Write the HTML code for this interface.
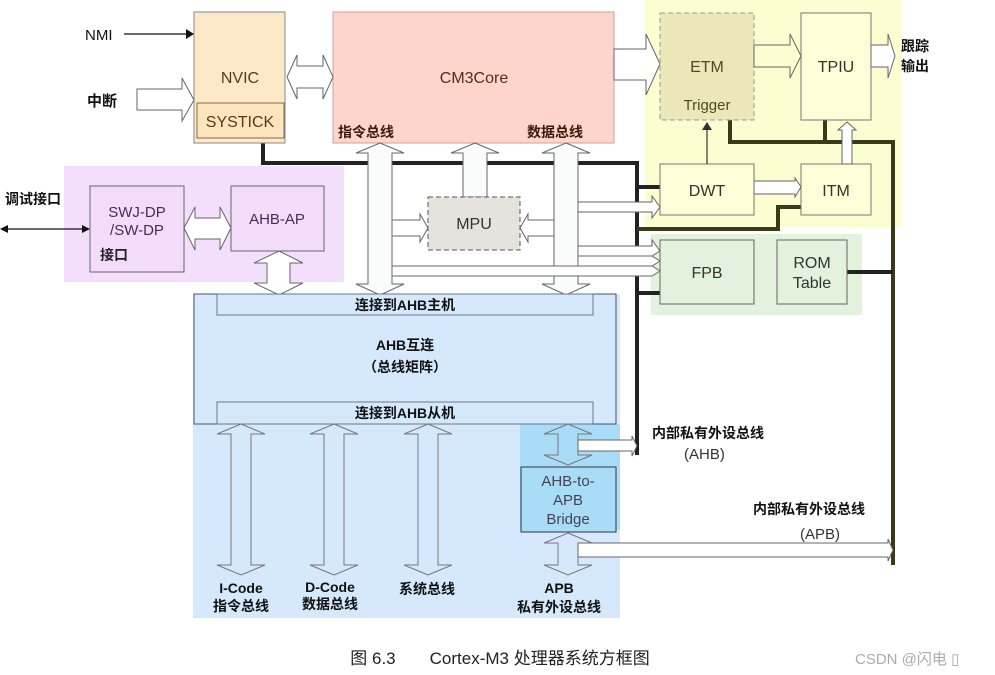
<!DOCTYPE html>
<html><head><meta charset="utf-8"><style>
html,body{margin:0;padding:0;background:#fff;}
svg{display:block;}
text{font-family:"Liberation Sans","Noto Sans CJK SC",sans-serif;}
.b{font-weight:bold;}
</style></head><body>
<svg width="995" height="675" viewBox="0 0 995 675" xmlns="http://www.w3.org/2000/svg">
<!-- background regions -->
<rect x="645" y="0" width="257" height="227" fill="#fdfdd2"/>
<rect x="651" y="234" width="211" height="81" fill="#e3f2dc"/>
<rect x="64" y="166" width="280" height="116" fill="#f3dffb"/>
<rect x="193" y="294" width="427" height="324" fill="#d6e9fc"/>
<rect x="520" y="424" width="100" height="106" fill="#a9dcf7"/>

<!-- black bus lines -->
<g fill="none" stroke="#222" stroke-width="4">
<polyline points="263,143 263,163 637,163 637,455"/>
<line x1="637" y1="187" x2="660" y2="187"/>
<line x1="637" y1="293" x2="660" y2="293"/>
<polyline points="637,229 778,229 778,207 801,207" stroke="#3a3a1a"/>
<polyline points="730,120 730,142 893,142 893,565" stroke="#3a3a1a"/>
<line x1="825" y1="120" x2="825" y2="142" stroke="#3a3a1a"/>
<line x1="847" y1="272" x2="893" y2="272"/>
</g>

<!-- NVIC -->
<rect x="194" y="12" width="91" height="131" fill="#fde9c9" stroke="#888"/>
<rect x="197" y="103" width="87" height="35" fill="#fce4bf" stroke="#8a6a3a"/>
<text x="240" y="83" font-size="16" text-anchor="middle" fill="#5a3a1a">NVIC</text>
<text x="240" y="127" font-size="16" text-anchor="middle" fill="#5a3a1a">SYSTICK</text>
<!-- CM3Core -->
<rect x="333" y="12" width="281" height="131" fill="#fdd5cb" stroke="#c9a29a"/>
<text x="474" y="83" font-size="16" text-anchor="middle" fill="#5a2a1a">CM3Core</text>
<text x="338" y="137" font-size="14" class="b" fill="#3a1a0a">指令总线</text>
<text x="527" y="137" font-size="14" class="b" fill="#3a1a0a">数据总线</text>

<!-- NMI & interrupt -->
<text x="85" y="40" font-size="15" fill="#111">NMI</text>
<line x1="124" y1="34" x2="188" y2="34" stroke="#111" stroke-width="1.3"/>
<polygon points="194,34 186,29 186,39" fill="#111"/>
<text x="87" y="106" font-size="15" class="b" fill="#111">中断</text>
<polygon points="137,89 182,89 182,78 194,100 182,121 182,110 137,110" fill="#fff" stroke="#666"/>
<!-- NVIC<->Core -->
<polygon points="287,77 297,55 297,66 323,66 323,55 333,77 323,99 323,88 297,88 297,99" fill="#fff" stroke="#666"/>

<!-- debug -->
<text x="5" y="204" font-size="14" class="b" fill="#111">调试接口</text>
<line x1="6" y1="229" x2="84" y2="229" stroke="#111" stroke-width="1.2"/>
<polygon points="0,229 8,225 8,233" fill="#111"/>
<polygon points="90,229 82,225 82,233" fill="#111"/>
<rect x="90" y="186" width="94" height="86" fill="#f2dcfa" stroke="#666"/>
<text x="137" y="217" font-size="15" text-anchor="middle" fill="#4a2a5a">SWJ-DP</text>
<text x="137" y="235" font-size="15" text-anchor="middle" fill="#4a2a5a">/SW-DP</text>
<text x="100" y="260" font-size="14" class="b" fill="#222">接口</text>
<rect x="231" y="186" width="93" height="65" fill="#f2dcfa" stroke="#666"/>
<text x="277" y="224" font-size="15" text-anchor="middle" fill="#4a2a5a">AHB-AP</text>
<polygon points="184,228 195,207 195,218 220,218 220,207 231,228 220,250 220,239 195,239 195,250" fill="#fff" stroke="#666"/>
<polygon points="279,251 303,263 290,263 290,283 303,283 279,295 254,283 267,283 267,263 254,263" fill="#fff" stroke="#666"/>

<!-- instruction/data bus vertical double arrows -->
<polygon points="380,143 404,153 392,153 392,284 404,284 380,295 356,284 368,284 368,153 356,153" fill="#fafcfc" stroke="#666"/>
<polygon points="566,143 590,153 578,153 578,284 590,284 566,295 542,284 554,284 554,153 542,153" fill="#fafcfc" stroke="#666"/>
<polygon points="475,143 499,153 487,153 487,197 463,197 463,153 451,153" fill="#fafcfc" stroke="#666"/>
<!-- MPU -->
<rect x="428" y="197" width="92" height="53" fill="#e6e3dc" stroke="#555" stroke-dasharray="5,3"/>
<text x="474" y="229" font-size="16" text-anchor="middle" fill="#333">MPU</text>
<polygon points="392,220 420,220 420,214 428,228 420,242 420,236 392,236" fill="#fff" stroke="#666"/>
<polygon points="554,220 528,220 528,214 520,228 528,242 528,236 554,236" fill="#fff" stroke="#666"/>
<!-- horizontal bus strips -->
<rect x="392" y="266" width="162" height="10" fill="#fff" stroke="#666"/>
<polygon points="578,202 652,202 652,196 660,207 652,218 652,212 578,212" fill="#fff" stroke="#666"/>
<polygon points="578,246 652,246 652,240 660,251 652,256 578,256" fill="#fff" stroke="#666"/>
<polygon points="578,256 652,256 660,261 652,266 578,266" fill="#fff" stroke="#666"/>
<polygon points="392,266 652,266 660,271 652,276 392,276" fill="#fff" stroke="#666"/>

<!-- Trace -->
<polygon points="614,49 646,49 646,34 660,64 646,95 646,80 614,80" fill="#fff" stroke="#666"/>
<rect x="660" y="13" width="94" height="107" fill="#ebe7b8" stroke="#999" stroke-dasharray="5,3"/>
<text x="707" y="72" font-size="16" text-anchor="middle" fill="#4a4a2a">ETM</text>
<text x="707" y="110" font-size="15" text-anchor="middle" fill="#4a4a2a">Trigger</text>
<rect x="801" y="13" width="70" height="107" fill="#fdfdd8" stroke="#777"/>
<text x="836" y="72" font-size="16" text-anchor="middle" fill="#333">TPIU</text>
<polygon points="754,45 790,45 790,34 801,56 790,78 790,67 754,67" fill="#fdfdd2" stroke="#666"/>
<polygon points="871,45 888,45 888,34 895,56 888,78 888,67 871,67" fill="#fff" stroke="#666"/>
<text x="901" y="51" font-size="14" class="b" fill="#111">跟踪</text>
<text x="901" y="71" font-size="14" class="b" fill="#111">输出</text>
<rect x="660" y="164" width="94" height="51" fill="#fdfdd8" stroke="#777"/>
<text x="707" y="196" font-size="16" text-anchor="middle" fill="#333">DWT</text>
<rect x="801" y="164" width="70" height="51" fill="#fdfdd8" stroke="#777"/>
<text x="836" y="196" font-size="16" text-anchor="middle" fill="#333">ITM</text>
<line x1="707" y1="164" x2="707" y2="128" stroke="#333" stroke-width="1.2"/>
<polygon points="707,122 702,130 712,130" fill="#333"/>
<polygon points="754,181 795,181 795,178 801,187 795,197 795,194 754,194" fill="#fff" stroke="#666"/>
<polygon points="842,164 842,130 838,130 847,122 856,130 852,130 852,164" fill="#fff" stroke="#666"/>
<rect x="660" y="240" width="94" height="64" fill="#e3f2dc" stroke="#666"/>
<text x="707" y="278" font-size="16" text-anchor="middle" fill="#333">FPB</text>
<rect x="777" y="240" width="70" height="64" fill="#e3f2dc" stroke="#666"/>
<text x="812" y="268" font-size="16" text-anchor="middle" fill="#333">ROM</text>
<text x="812" y="288" font-size="16" text-anchor="middle" fill="#333">Table</text>

<!-- AHB matrix -->
<rect x="194" y="294" width="422" height="130" fill="#d6e9fc" stroke="#445566"/>
<rect x="217" y="294" width="376" height="21" fill="#d6e9fc" stroke="#667788"/>
<rect x="217" y="402" width="376" height="22" fill="#d6e9fc" stroke="#667788"/>
<text x="405" y="310" font-size="14" class="b" text-anchor="middle" fill="#111">连接到AHB主机</text>
<text x="405" y="350" font-size="14" class="b" text-anchor="middle" fill="#111">AHB互连</text>
<text x="405" y="372" font-size="14" class="b" text-anchor="middle" fill="#111">（总线矩阵）</text>
<text x="405" y="418" font-size="14" class="b" text-anchor="middle" fill="#111">连接到AHB从机</text>

<g fill="#d6e9fc" stroke="#777">
<polygon points="241,424 265,434 251,434 251,565 265,565 241,575 217,565 231,565 231,434 217,434"/>
<polygon points="334,424 358,434 344,434 344,565 358,565 334,575 310,565 324,565 324,434 310,434"/>
<polygon points="428,424 452,434 438,434 438,565 452,565 428,575 404,565 418,565 418,434 404,434"/>
<polygon points="568,424 592,434 578,434 578,455 592,455 568,465 544,455 558,455 558,434 544,434" fill="#a9dcf7"/>
<polygon points="568,533 592,543 578,543 578,565 592,565 568,575 544,565 558,565 558,543 544,543"/>
</g>
<rect x="521" y="467" width="95" height="65" fill="#a9dcf7" stroke="#334"/>
<text x="568" y="486" font-size="15" text-anchor="middle" fill="#445">AHB-to-</text>
<text x="568" y="505" font-size="15" text-anchor="middle" fill="#445">APB</text>
<text x="568" y="524" font-size="15" text-anchor="middle" fill="#445">Bridge</text>
<polygon points="578,440 632,440 632,436 637,446 632,456 632,451 578,451" fill="#fff" stroke="#666"/>
<polygon points="578,543 888,543 888,539 893,550 888,561 888,557 578,557" fill="#fff" stroke="#666"/>
<text x="652" y="438" font-size="14" class="b" fill="#111">内部私有外设总线</text>
<text x="684" y="459" font-size="15" fill="#333">(AHB)</text>
<text x="753" y="514" font-size="14" class="b" fill="#111">内部私有外设总线</text>
<text x="800" y="539" font-size="15" fill="#333">(APB)</text>

<g font-size="14" class="b" fill="#111" text-anchor="middle">
<text x="241" y="593" class="b">I-Code</text>
<text x="241" y="611" class="b">指令总线</text>
<text x="330" y="592" class="b">D-Code</text>
<text x="330" y="609" class="b">数据总线</text>
<text x="427" y="594" class="b">系统总线</text>
<text x="559" y="593" class="b">APB</text>
<text x="559" y="612" class="b">私有外设总线</text>
</g>

<text x="500" y="664" font-size="17" text-anchor="middle" fill="#222">图 6.3　　Cortex-M3 处理器系统方框图</text>
<text x="855" y="664" font-size="15" fill="#aaa">CSDN @闪电 ▯</text>
</svg>
</body></html>
